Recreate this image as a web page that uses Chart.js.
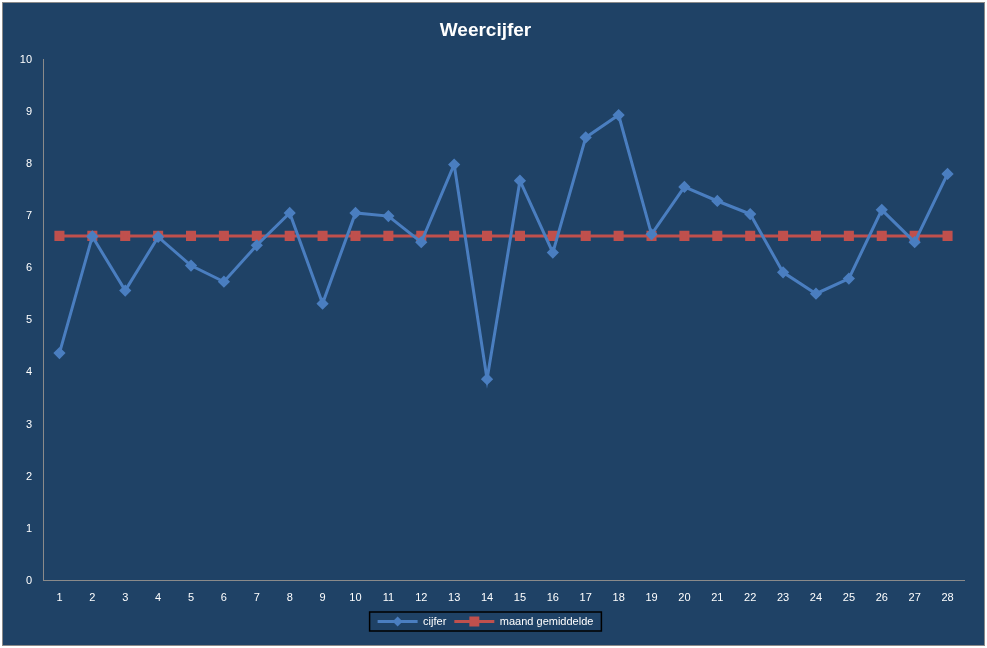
<!DOCTYPE html>
<html><head><meta charset="utf-8">
<script src="https://cdn.jsdelivr.net/npm/chart.js@4/dist/chart.umd.min.js"></script>
<style>html,body{margin:0;padding:0;background:#fff}#w{position:absolute;left:2px;top:2px;width:981px;height:642px;border:1px solid #8a8a8a;background:#1F4266}</style>
</head><body><div id="w"><canvas id="c"></canvas></div>
<script>
const categories = ['1','2','3','4','5','6','7','8','9','10','11','12','13','14','15','16','17','18','19','20','21','22','23','24','25','26','27','28'];
const cijfer = [4.37,6.61,5.57,6.6,6.05,5.74,6.44,7.06,5.32,7.06,7.0,6.5,7.99,3.87,7.68,6.3,8.51,8.94,6.65,7.56,7.29,7.04,5.92,5.51,5.8,7.12,6.5,7.81];
const gemiddelde = categories.map(()=>6.62);
const legendBox = {id:'lb',afterDraw(ch){const l=ch.legend;const hb=l.legendHitBoxes;if(!hb||!hb.length)return;const c=ch.ctx;c.save();
 const x0=hb[0].left-8,x1=hb[hb.length-1].left+hb[hb.length-1].width+8,y0=hb[0].top-4,h=hb[0].height+8;
 c.strokeStyle='#000';c.lineWidth=1.5;c.strokeRect(x0,y0,x1-x0,h);
 hb.forEach((b,i)=>{const ds=ch.data.datasets[i];const cx=b.left+20,cy=b.top+b.height/2;c.fillStyle=ds.backgroundColor;c.beginPath();
  if(ds.pointStyle==='rectRot'){c.moveTo(cx,cy-5);c.lineTo(cx+5,cy);c.lineTo(cx,cy+5);c.lineTo(cx-5,cy);c.closePath();}else{c.rect(cx-5,cy-5,10,10);}c.fill();});
 c.restore();}};
new Chart(document.getElementById('c'),{
 type:'line',
 data:{labels:categories,datasets:[
  {label:'cijfer',data:cijfer,borderColor:'#4A7EC0',backgroundColor:'#4A7EC0',borderWidth:3,pointStyle:'rectRot',pointRadius:4,tension:0},
  {label:'maand gemiddelde',data:gemiddelde,borderColor:'#C0504D',backgroundColor:'#C0504D',borderWidth:3,pointStyle:'rect',pointRadius:5,tension:0}
 ]},
 options:{responsive:true,maintainAspectRatio:false,animation:false,
  layout:{padding:{left:4,right:20,top:4,bottom:8}},
  plugins:{
   title:{display:true,text:'Weercijfer',color:'#fff',font:{family:'Liberation Sans',size:19,weight:'bold'},padding:{top:12,bottom:18}},
   legend:{position:'bottom',labels:{color:'#fff',boxWidth:40,boxHeight:3,padding:8,font:{family:'Liberation Sans',size:11},
     generateLabels(ch){return ch.data.datasets.map((d,i)=>({text:d.label,fillStyle:d.borderColor,strokeStyle:d.borderColor,lineWidth:0,fontColor:'#fff',datasetIndex:i}));}}},
   tooltip:{enabled:false}},
  scales:{
   x:{grid:{display:false},border:{color:'#8a8a8a'},offset:true,ticks:{color:'#fff',font:{family:'Liberation Sans',size:11}}},
   y:{min:0,max:10,grid:{display:false},border:{color:'#8a8a8a'},afterFit(s){s.width=36;},ticks:{stepSize:1,color:'#fff',font:{family:'Liberation Sans',size:11}}}
  }},
 plugins:[legendBox]
});
</script></body></html>
